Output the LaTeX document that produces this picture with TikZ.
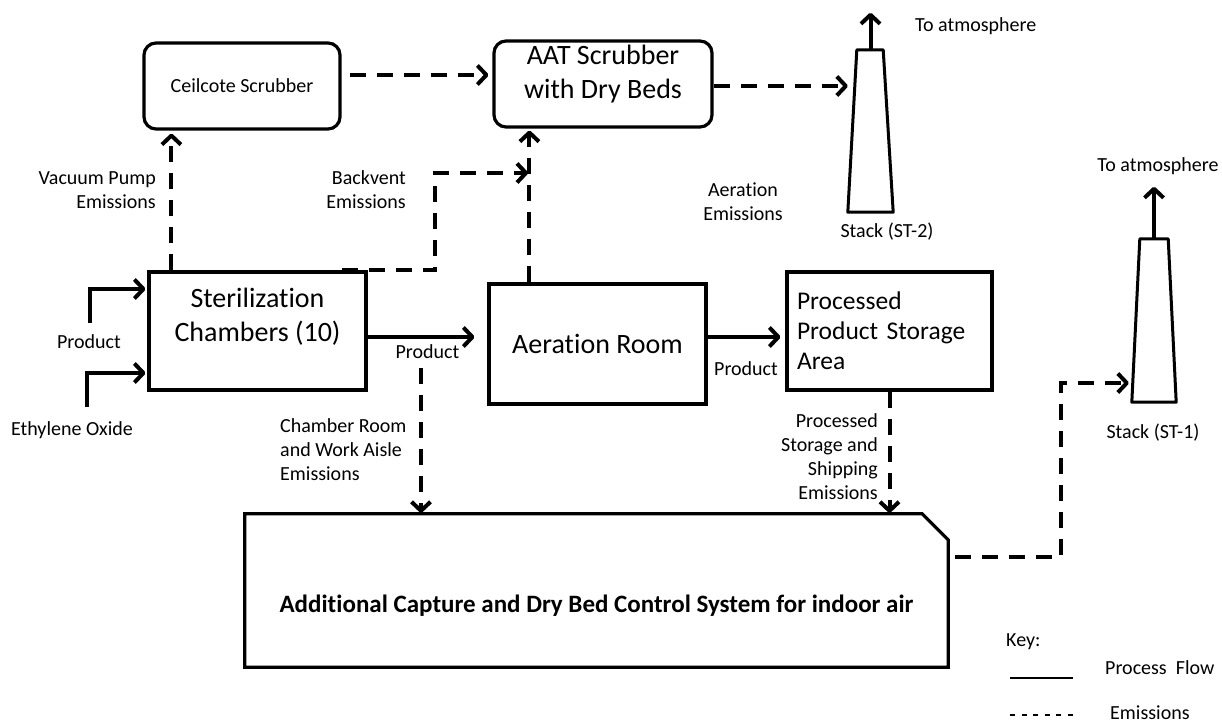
\documentclass[tikz,border=0pt]{standalone}
\usepackage{fontspec}
\setmainfont[Ligatures=NoCommon]{Carlito}
\usetikzlibrary{arrows.meta}

\tikzset{
  procbox/.style={draw,line width=3.2pt,inner sep=0pt},
  scrubbox/.style={procbox,rounded corners=12pt},
  stack/.style={inner sep=0pt,minimum width=45pt,minimum height=162pt},
  stackline/.style={line width=3pt,line join=round},
  flow/.style={line width=4pt,-{Straight Barb[length=9pt,width=19pt,line join=round]}},
  emis/.style={flow,dash pattern=on 16pt off 11pt},
  lbl/.style={font=\fontsize{20}{24}\selectfont,inner sep=0pt},
  bigtxt/.style={font=\fontsize{28}{34}\selectfont,align=center,inner sep=0pt},
}

\begin{document}
\begin{tikzpicture}[x=1pt,y=-1pt]
\fill[white] (0,0) rectangle (1222,727);
\useasboundingbox (0,0) rectangle (1222,727);

% scrubbers
\node[scrubbox,minimum width=196pt,minimum height=86pt,lbl] (cel) at (242,86) {Ceilcote Scrubber};
\node[scrubbox,minimum width=218pt,minimum height=86pt] (aat) at (603,84) {};
\node[bigtxt] (aattxt) at (603,74) {AAT Scrubber\\with Dry Beds};

% stacks
\node[stack] (st2) at (870.5,131) {};
\draw[stackline] (st2.south west) -- ([xshift=9pt]st2.north west)
  -- ([xshift=-10pt]st2.north east) -- (st2.south east) -- cycle;
\node[stack,minimum width=44pt,minimum height=163pt] (st1) at (1154,320.5) {};
\draw[stackline] (st1.south west) -- ([xshift=8pt]st1.north west)
  -- ([xshift=-8pt]st1.north east) -- (st1.south east) -- cycle;

% process boxes
\node[procbox,minimum width=217pt,minimum height=118pt] (ster) at (257.5,331) {};
\node[bigtxt] (stertxt) at (257.5,316.5) {Sterilization\\Chambers (10)};
\node[procbox,minimum width=217pt,minimum height=120pt,bigtxt] (aer) at (597.5,344) {Aeration Room};
\node[procbox,minimum width=205pt,minimum height=118pt,align=left,text width=185pt,
  font=\fontsize{25.5}{30}\selectfont] (proc) at (889.5,331) {Processed\\Product Storage\\Area};

% indoor air control system
\node[minimum width=703pt,minimum height=153pt,inner sep=0pt] (ctrl) at (596.5,590.5) {};
\draw[line width=3.2pt] (ctrl.north west) -- ([xshift=-26pt]ctrl.north east)
  -- ([yshift=-26pt]ctrl.north east) -- (ctrl.south east) -- (ctrl.south west) -- cycle;
\node[font=\bfseries\fontsize{25}{30}\selectfont,inner sep=0pt] (ctrltxt) at ([yshift=-15pt]ctrl.center)
  {Additional Capture and Dry Bed Control System for indoor air};

% process flow
\coordinate (pin) at (90,323);
\coordinate (eoin) at (87,407);
\draw[flow,shorten >=2pt] (pin) |- ([yshift=42pt]ster.west);
\draw[flow,shorten >=2pt] (eoin) |- ([yshift=-42pt]ster.west);
\node[lbl] (pinlbl) at (89,342) {Product};
\node[lbl] (eolbl) at (72,430) {Ethylene Oxide};
\draw[flow,shorten >=13pt] ([yshift=-6pt]ster.east) -- ([yshift=-6pt]ster.east -| aer.west)
  node[lbl,midway,below=6pt] (p1) {Product};
\draw[flow,shorten >=5pt] ([yshift=7pt]aer.east) -- ([yshift=7pt]aer.east -| proc.west);
\node[lbl] (p2) at (746,369) {Product};

% emissions
\coordinate (bv) at (435,173);
\coordinate (vent) at (531,173);
\coordinate (crin) at (421,368);
\coordinate (b1) at (1061,383);
\draw[emis,shorten >=3pt] ([xshift=24pt]ster.north west) -- ([xshift=24pt]ster.north west |- cel.south);
\draw[emis,shorten >=3pt] ([xshift=-26pt]ster.north east) -| (bv) -- (vent);
\draw[emis,shorten >=2pt] ([xshift=42pt]aer.north west) -- ([xshift=42pt]aer.north west |- aat.south);
\draw[emis,shorten >=4pt] ([xshift=8pt,yshift=11pt]cel.east) -- ([yshift=11pt]cel.east -| aat.west);
\draw[emis] ([yshift=-2pt]aat.east) -- ([yshift=-2pt]aat.east -| st2.west);
\draw[emis,shorten >=1pt] (crin) -- (crin |- ctrl.north);
\draw[emis,shorten >=1pt] (proc.south) -- (proc.south |- ctrl.north);
\draw[emis,shorten >=3pt] ([xshift=7pt,yshift=33.5pt]ctrl.east) -| (b1) -- (b1 -| st1.west);
\draw[flow] (st2.north) -- ++(0,-37);
\draw[flow] (st1.north) -- ++(0,-52);

\node[lbl,anchor=east,align=right] (vaclbl) at (156,190) {Vacuum Pump\\Emissions};
\node[lbl,anchor=east,align=right] (bvlbl) at (406,190) {Backvent\\Emissions};
\node[lbl,align=center] (aerlbl) at (743,202) {Aeration\\Emissions};
\node[lbl,anchor=west,align=left] (crlbl) at (280,450) {Chamber Room\\and Work Aisle\\Emissions};
\node[lbl,anchor=east,align=right] (shiplbl) at (878,457) {Processed\\Storage and\\Shipping\\Emissions};
\node[lbl,anchor=west] (atm2) at (915,26) {To atmosphere};
\node[lbl] (atm1) at (1158,166) {To atmosphere};
\node[lbl] (st2lbl) at (887,232) {Stack (ST-2)};
\node[lbl] (st1lbl) at (1153,433) {Stack (ST-1)};

% key
\node[lbl,anchor=west] (key) at (1006,642) {Key:};
\node[lbl,anchor=west] (kflow) at (1105,668) {Process\ \ Flow};
\node[lbl,anchor=west] (kemis) at (1110,713) {Emissions};
\draw[line width=1.5pt] (1010,678) -- (1073,678);
\draw[line width=1.5pt,dash pattern=on 5pt off 6.5pt] (1010,715) -- (1075,715);
\end{tikzpicture}
\end{document}
